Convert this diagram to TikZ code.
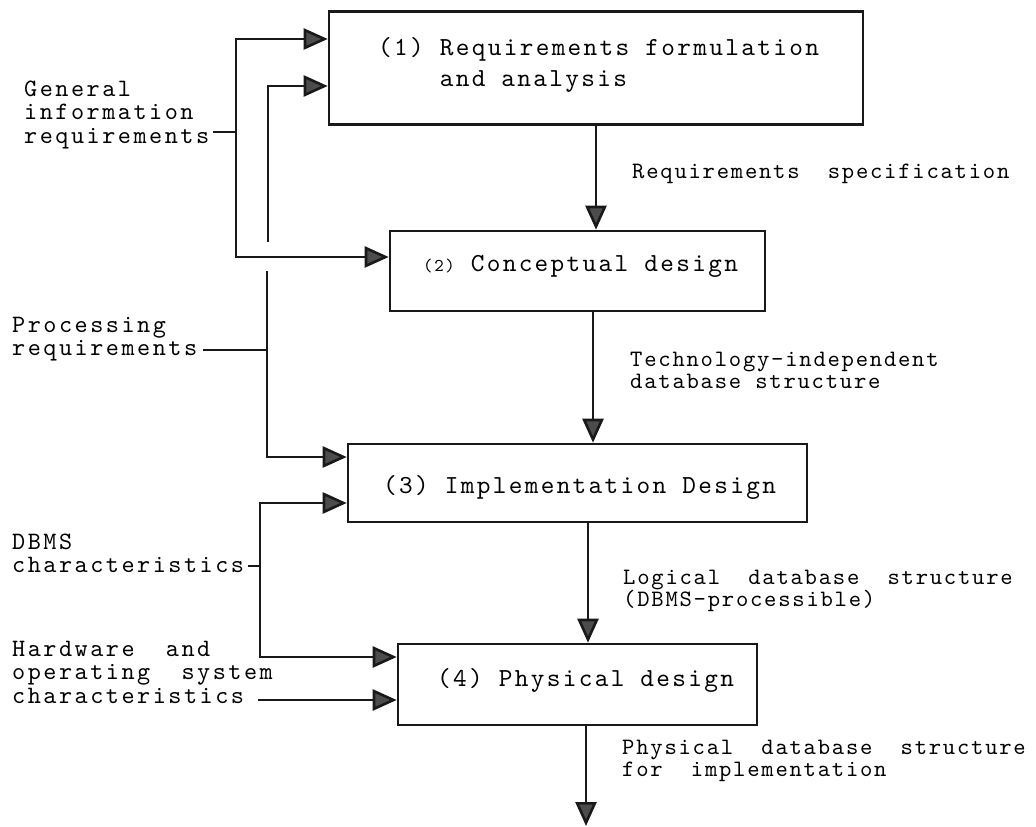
\documentclass[tikz,border=0pt]{standalone}
\usepackage{fontspec}
\usetikzlibrary{arrows.meta}
% typewriter faces with extra tracking
\newfontfamily\twbox[LetterSpace=9]{lmmono10-regular.otf}
\newfontfamily\twlab[LetterSpace=10]{lmmono10-regular.otf}
\newfontfamily\twnote[LetterSpace=7.5]{lmmono10-regular.otf}
% left-aligned stack of lines whose baseline is the first line
\newcommand\mlines[1]{\begin{tabular}[t]{@{}l@{}}#1\end{tabular}}

\begin{document}
\begin{tikzpicture}[x=1pt,y=-1pt,
  line/.style={line width=2.6pt, draw=black!90},
  flow/.style={line, -{Triangle[length=24pt,width=21pt,fill=black!70]}},
  box/.style={draw=black!90, line width=2.6pt, rectangle, inner sep=0pt},
  boxtext/.style={inner sep=0pt, anchor=base west, font=\twbox\fontsize{26}{31}\selectfont},
  lab/.style={inner sep=0pt, anchor=base west, font=\twlab\fontsize{25}{23.5}\selectfont},
  note/.style={inner sep=0pt, anchor=base west, font=\twnote\fontsize{23.5}{22}\selectfont}]

\useasboundingbox (0,0) rectangle (1036,827);

% design steps
\node[box, minimum width=534pt, minimum height=113pt] (b1) at (596,68) {};
\node[box, minimum width=375pt, minimum height=80pt]  (b2) at (577.5,271) {};
\node[box, minimum width=459pt, minimum height=78pt]  (b3) at (577.5,483) {};
\node[box, minimum width=359pt, minimum height=81pt]  (b4) at (577.5,684.5) {};

\node[boxtext] (t1) at (378,55) {\mlines{(1) Requirements formulation\\\phantom{(1) }and analysis}};
\node[boxtext] (t2) at (423,271) {{\fontsize{18}{18}\selectfont(2)} Conceptual design};
\node[boxtext] (t3) at (383,493) {(3) Implementation Design};
\node[boxtext] (t4) at (437,686) {(4) Physical design};

% outputs of each step
\node[note] (n1) at (632,178) {Requirements~~specification};
\node[note] (n2) at (630,366) {\mlines{Technology-independent\\database structure}};
\node[note] (n3) at (623,584) {\mlines{Logical~~database~~structure\\(DBMS-processible)}};
\node[note] (n4) at (622,754) {\mlines{Physical~~database~~structure\\for~~implementation}};

\coordinate (x2) at (593,0);
\coordinate (x3) at (588,0);
\coordinate (x4) at (586,0);
\coordinate (out) at (586,826);

\draw[flow] (b1.south) -- (b1.south |- b2.north);
\draw[flow] (x2 |- b2.south) -- (x2 |- b3.north);
\draw[flow] (x3 |- b3.south) -- (x3 |- b4.north);
\draw[flow] (x4 |- b4.south) -- (out);

% inputs
\node[lab] (g) at (24,96) {\mlines{General\\information\\requirements}};
\node[lab] (p) at (12,332) {\mlines{Processing\\requirements}};
\node[lab] (d) at (12,549) {\mlines{DBMS\\characteristics}};
\node[lab] (h) at (12,656) {\mlines{Hardware~~and\\operating~~system\\characteristics}};

% general information requirements -> steps 1 and 2
\coordinate (gj) at (236,132);
\coordinate (gtop) at (236,39);
\coordinate (gbot) at (236,257);
\draw[line, shorten <=4pt] (g.east |- gj) -- (gj);
\draw[flow] (gj) -- (gtop) -- (gtop -| b1.west);
\draw[flow] (gj) -- (gbot) -- (gbot -| b2.west);

% processing requirements -> steps 1 and 3, bridged over the line above
\coordinate (pj) at (267,350);
\coordinate (ptop) at (268,86);
\coordinate (gapU) at (268,242);
\coordinate (gapL) at (267,271);
\coordinate (pbot) at (267,457);
\draw[line, shorten <=6pt] (p.east |- pj) -- (pj);
\draw[line] (gapL) -- (pj);
\draw[flow] (gapU) -- (ptop) -- (ptop -| b1.west);
\draw[flow] (pj) -- (pbot) -- (pbot -| b3.west);

% DBMS characteristics -> steps 3 and 4
\coordinate (dj) at (260,566);
\coordinate (dtop) at (260,503);
\coordinate (dbot) at (260,657);
\draw[line, shorten <=4pt] (d.east |- dj) -- (dj);
\draw[flow] (dj) -- (dtop) -- (dtop -| b3.west);
\draw[flow] (dj) -- (dbot) -- (dbot -| b4.west);

% hardware characteristics -> step 4
\coordinate (hy) at (258,700);
\draw[flow] (hy) -- (hy -| b4.west);
\end{tikzpicture}
\end{document}
